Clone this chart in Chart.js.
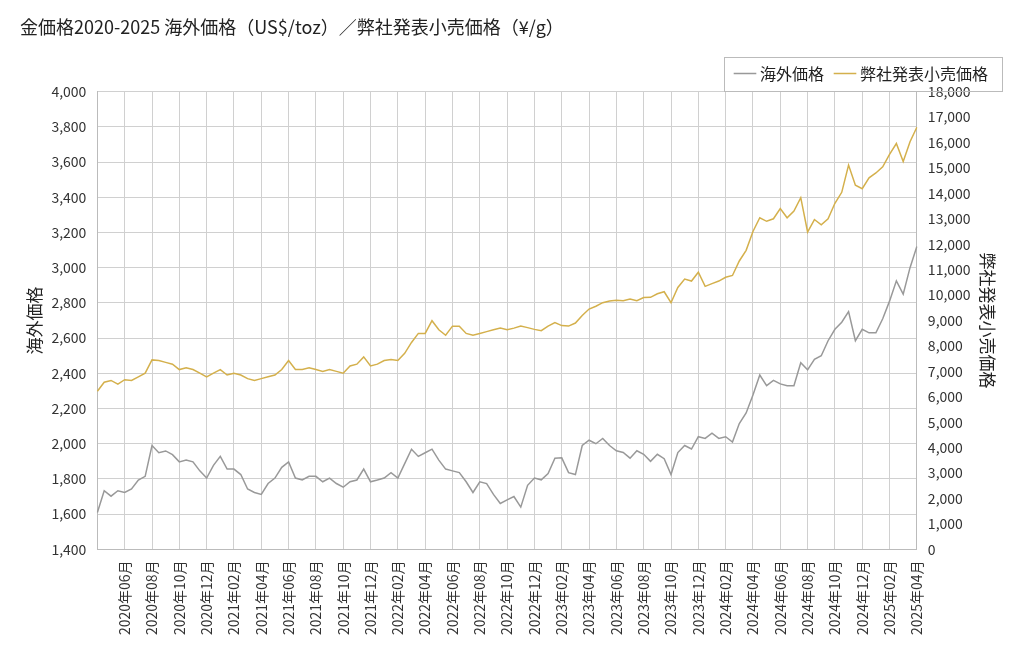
<!DOCTYPE html>
<html><head><meta charset="utf-8">
<script src="https://cdn.jsdelivr.net/npm/chart.js@4/dist/chart.umd.min.js"></script>
<style>html,body{margin:0;background:#fff}#w{width:1024px;height:652px}</style>
</head><body><div id="w"><canvas id="c"></canvas></div>
<script>
const titleText = "金価格2020-2025 海外価格（US$/toz）／弊社発表小売価格（¥/g）";
const seriesNames = ["海外価格", "弊社発表小売価格"];
// semi-monthly dates 2020-04-01 .. 2025-04-01
const categories = [];
for (let y = 2020; y <= 2025; y++) for (let m = 1; m <= 12; m++) {
  if (y === 2020 && m < 4) continue;
  if (y === 2025 && m > 4) continue;
  const mm = String(m).padStart(2, "0");
  categories.push(`${y}-${mm}-01`);
  if (!(y === 2025 && m === 4)) categories.push(`${y}-${mm}-15`);
}
const overseas2020 = [1610,1733,1702,1733,1723,1743,1794,1815,1990,1949,1959,1938,1897,1907,1897,1846,1805,1877];
const overseas2021 = [1928,1856,1856,1825,1743,1723,1712,1774,1805,1866,1897,1805,1794,1815,1815,1784,1805,1774,1753,1784,1794,1856,1784,1794];
const overseas2022 = [1805,1836,1805,1887,1969,1928,1949,1969,1907,1856,1846,1836,1784,1723,1784,1774,1712,1661,1681,1700,1640,1764,1805,1795];
const overseas2023 = [1830,1918,1920,1836,1825,1990,2020,2000,2030,1990,1960,1950,1918,1960,1940,1900,1940,1915,1825,1950,1990,1970,2040,2030];
const overseas2024 = [2060,2030,2040,2010,2115,2175,2277,2390,2330,2360,2340,2330,2330,2460,2420,2480,2500,2585,2650,2690,2750,2585,2650,2630];
const overseas2025 = [2630,2710,2810,2925,2850,3000,3120];
const retail2020 = [6216,6572,6643,6500,6671,6643,6785,6927,7450,7425,7354,7283,7070,7140,7070,6927,6785,6927];
const retail2021 = [7070,6856,6927,6856,6714,6643,6714,6785,6856,7070,7425,7070,7070,7140,7070,7000,7070,7000,6927,7212,7283,7568,7212,7283];
const retail2022 = [7425,7468,7425,7710,8136,8492,8492,8990,8634,8421,8777,8777,8492,8421,8492,8563,8634,8705,8634,8700,8780,8720,8650,8600];
const retail2023 = [8780,8920,8800,8780,8900,9200,9450,9560,9700,9770,9800,9780,9840,9780,9900,9910,10050,10130,9700,10300,10630,10550,10900,10340];
const retail2024 = [10450,10550,10700,10770,11340,11760,12500,13040,12900,13000,13400,13040,13300,13830,12480,12970,12760,13000,13610,14040,15110,14320,14180,14610];
const retail2025 = [14800,15040,15530,15960,15250,16030,16600];
const overseas = [...overseas2020,...overseas2021,...overseas2022,...overseas2023,...overseas2024,...overseas2025];
const retail = [...retail2020,...retail2021,...retail2022,...retail2023,...retail2024,...retail2025];

const FONT = "'Noto Sans CJK JP','Noto Sans',sans-serif";
Chart.defaults.font.family = FONT;
Chart.defaults.color = "#333";
const isTick = (s, i) => i > 0 && s.endsWith("-01") && (+s.slice(5,7)) % 2 === 0;
const legendBox = {
  id: "legendBox",
  afterDraw(ch) {
    const l = ch.legend, c = ch.ctx, hb = l.legendHitBoxes;
    if (!hb || !hb.length) return;
    const x0 = Math.min(...hb.map(b => b.left)) - 14;
    const x1 = Math.max(...hb.map(b => b.left + b.width)) + 14;
    const y0 = hb[0].top - 9, y1 = hb[0].top + hb[0].height + 9;
    c.save(); c.strokeStyle = "#bbb"; c.lineWidth = 1;
    c.strokeRect(Math.round(x0) + 0.5, Math.round(y0) + 0.5, Math.round(x1 - x0), Math.round(y1 - y0));
    c.restore();
  }
};
new Chart(document.getElementById("c"), {
  type: "line",
  data: {
    labels: categories,
    datasets: [
      { label: seriesNames[0], data: overseas, yAxisID: "y", borderColor: "#999999", backgroundColor: "#999999", borderWidth: 1.5, pointRadius: 0, tension: 0 },
      { label: seriesNames[1], data: retail, yAxisID: "y2", borderColor: "#d4b04c", backgroundColor: "#d4b04c", borderWidth: 1.5, pointRadius: 0, tension: 0 }
    ]
  },
  options: {
    responsive: true, maintainAspectRatio: false, animation: false,
    layout: { padding: { left: 20, right: 22, top: 10, bottom: 14 } },
    plugins: {
      title: { display: true, text: titleText, align: "start", font: { size: 18, weight: "normal" }, color: "#222", padding: { top: 6, bottom: 14 } },
      legend: { align: "end", labels: { usePointStyle: true, pointStyle: "line", font: { size: 16 }, color: "#222", padding: 14, boxWidth: 14 } },
      tooltip: { enabled: false }
    },
    scales: {
      x: {
        offset: false,
        grid: { color: ctx => isTick(categories[ctx.index] || "", ctx.index) ? "#d0d0d0" : "rgba(0,0,0,0)", tickColor: "rgba(0,0,0,0)" },
        border: { color: "#bbb" },
        ticks: { autoSkip: false, maxRotation: 90, minRotation: 90, font: { size: 14 }, color: "#333",
          callback: (v, i) => { const s = categories[i]; return isTick(s, i) ? `${s.slice(0,4)}年${s.slice(5,7)}月` : ""; } }
      },
      y: {
        position: "left", min: 1400, max: 4000,
        ticks: { stepSize: 200, font: { size: 14 }, color: "#333" },
        grid: { color: "#d0d0d0", tickColor: "rgba(0,0,0,0)" },
        border: { color: "#bbb" },
        title: { display: true, text: seriesNames[0], font: { size: 17 }, color: "#222" }
      },
      y2: {
        position: "right", min: 0, max: 18000,
        ticks: { stepSize: 1000, font: { size: 14 }, color: "#333" },
        grid: { drawOnChartArea: false, tickColor: "rgba(0,0,0,0)" },
        border: { color: "#bbb" },
        title: { display: true, text: seriesNames[1], font: { size: 17 }, color: "#222" }
      }
    }
  },
  plugins: [legendBox]
});
</script></body></html>
